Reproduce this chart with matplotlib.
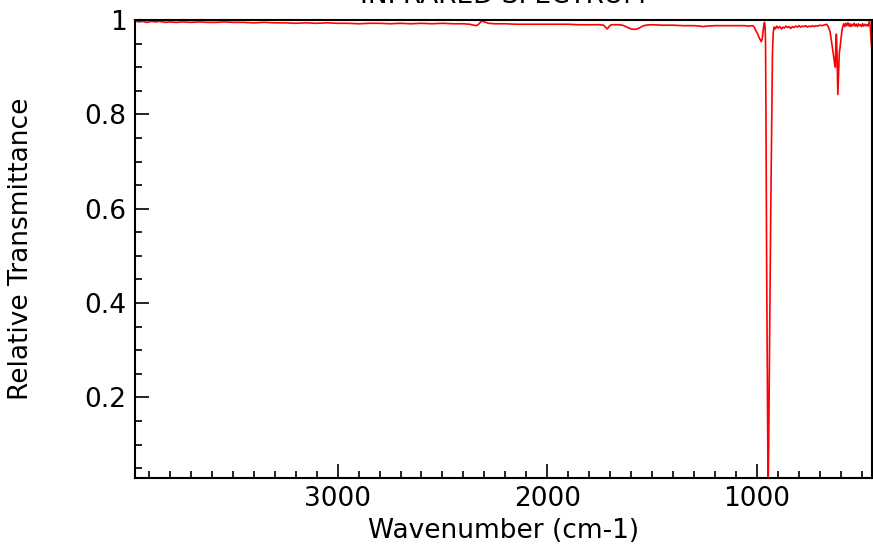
import matplotlib
matplotlib.use('Agg')
import matplotlib.pyplot as plt
from matplotlib.ticker import MultipleLocator, FormatStrFormatter

# espectro (numero de onda em cm-1, transmitancia relativa)
wavenumber = [
    3966, 3950, 3930, 3910, 3890, 3870, 3850, 3820, 3800, 3770, 3740, 3700,
    3660, 3620, 3580, 3540, 3500, 3450, 3400, 3350, 3300, 3250, 3200, 3150,
    3100, 3050, 3000, 2950, 2900, 2850, 2800, 2750, 2700, 2650, 2600, 2550,
    2500, 2450, 2400, 2370, 2350, 2337, 2325, 2313, 2300, 2280, 2250, 2200,
    2150, 2100, 2050, 2000, 1950, 1900, 1850, 1800, 1750, 1730, 1720, 1713,
    1705, 1695, 1660, 1640, 1620, 1600, 1581, 1565, 1545, 1530, 1500, 1450,
    1400, 1350, 1300, 1270, 1256, 1240, 1200, 1150, 1100, 1060, 1040, 1020,
    1012, 1005, 995, 988, 982, 978, 974, 970, 966, 963, 960, 958,
    956, 953, 949, 946, 943, 938, 933, 928, 925, 921, 917, 912,
    905, 898, 890, 882, 875, 868, 860, 852, 845, 838, 830, 822,
    815, 806, 798, 790, 782, 774, 766, 758, 750, 742, 734, 726,
    718, 710, 700, 690, 680, 672, 666, 658, 650, 645, 638, 632,
    628, 625, 622, 620, 617, 613, 610, 606, 603, 598, 594, 590,
    585, 580, 575, 570, 565, 560, 555, 550, 545, 540, 535, 530,
    525, 520, 515, 510, 505, 500, 495, 490, 485, 480, 475, 470,
    465, 462, 458, 455, 450,
]
transmittance = [
    0.998, 0.996, 0.997, 0.995, 0.997, 0.996, 0.997, 0.995, 0.996, 0.995, 0.996, 0.995,
    0.996, 0.995, 0.995, 0.996, 0.995, 0.995, 0.994, 0.995, 0.994, 0.994, 0.993, 0.994,
    0.993, 0.994, 0.993, 0.993, 0.992, 0.993, 0.993, 0.992, 0.993, 0.992, 0.993, 0.992,
    0.993, 0.992, 0.992, 0.991, 0.989, 0.988, 0.992, 0.998, 0.996, 0.993, 0.992, 0.992,
    0.991, 0.991, 0.991, 0.991, 0.991, 0.991, 0.990, 0.990, 0.990, 0.989, 0.984, 0.981,
    0.986, 0.990, 0.990, 0.989, 0.985, 0.981, 0.980, 0.982, 0.987, 0.989, 0.990, 0.989,
    0.989, 0.988, 0.988, 0.987, 0.986, 0.987, 0.988, 0.988, 0.988, 0.988, 0.987, 0.988,
    0.985, 0.978, 0.970, 0.962, 0.957, 0.954, 0.960, 0.975, 0.990, 0.995, 0.985, 0.950,
    0.800, 0.500, 0.200, 0.000, 0.100, 0.350, 0.600, 0.810, 0.930, 0.975, 0.985, 0.981,
    0.987, 0.983, 0.986, 0.981, 0.985, 0.983, 0.987, 0.984, 0.986, 0.982, 0.986, 0.984,
    0.987, 0.985, 0.988, 0.985, 0.987, 0.986, 0.988, 0.985, 0.987, 0.986, 0.988, 0.986,
    0.988, 0.987, 0.989, 0.988, 0.989, 0.990, 0.991, 0.985, 0.975, 0.960, 0.940, 0.920,
    0.905, 0.900, 0.950, 0.970, 0.930, 0.842, 0.880, 0.930, 0.940, 0.960, 0.975, 0.985,
    0.992, 0.986, 0.993, 0.988, 0.994, 0.987, 0.992, 0.986, 0.991, 0.988, 0.993, 0.987,
    0.991, 0.986, 0.992, 0.988, 0.990, 0.986, 0.992, 0.987, 0.991, 0.988, 0.990, 0.987,
    0.993, 0.997, 0.985, 0.960, 0.933,
]

fs = 19

fig = plt.figure(figsize=(8.73, 5.46), dpi=100)
ax = fig.add_axes([135 / 873, 1 - 478 / 546, 737 / 873, 458 / 546])

ax.plot(wavenumber, transmittance, color='#ff0000', lw=1.2)

ax.set_xlim(3967, 450)
ax.set_ylim(0.029, 1.0)

ax.xaxis.set_major_locator(MultipleLocator(1000))
ax.xaxis.set_minor_locator(MultipleLocator(100))
ax.yaxis.set_major_locator(MultipleLocator(0.2))
ax.yaxis.set_minor_locator(MultipleLocator(0.05))
ax.yaxis.set_major_formatter(FormatStrFormatter('%g'))

ax.tick_params(which='both', direction='in', top=False, right=False, labelsize=fs, width=1.2)
ax.tick_params(which='major', length=10, pad=6)
ax.tick_params(which='minor', length=5)
for s in ax.spines.values():
    s.set_linewidth(1.5)

ax.set_title('INFRARED SPECTRUM', fontsize=fs, pad=12)
ax.set_xlabel('Wavenumber (cm-1)', fontsize=fs, va='center')
ax.xaxis.set_label_coords(0.5, -0.1157)
ax.set_ylabel('Relative Transmittance', fontsize=fs, va='center')
ax.yaxis.set_label_coords((21 - 135) / 737, 0.5)

plt.savefig('out.png', dpi=100)
